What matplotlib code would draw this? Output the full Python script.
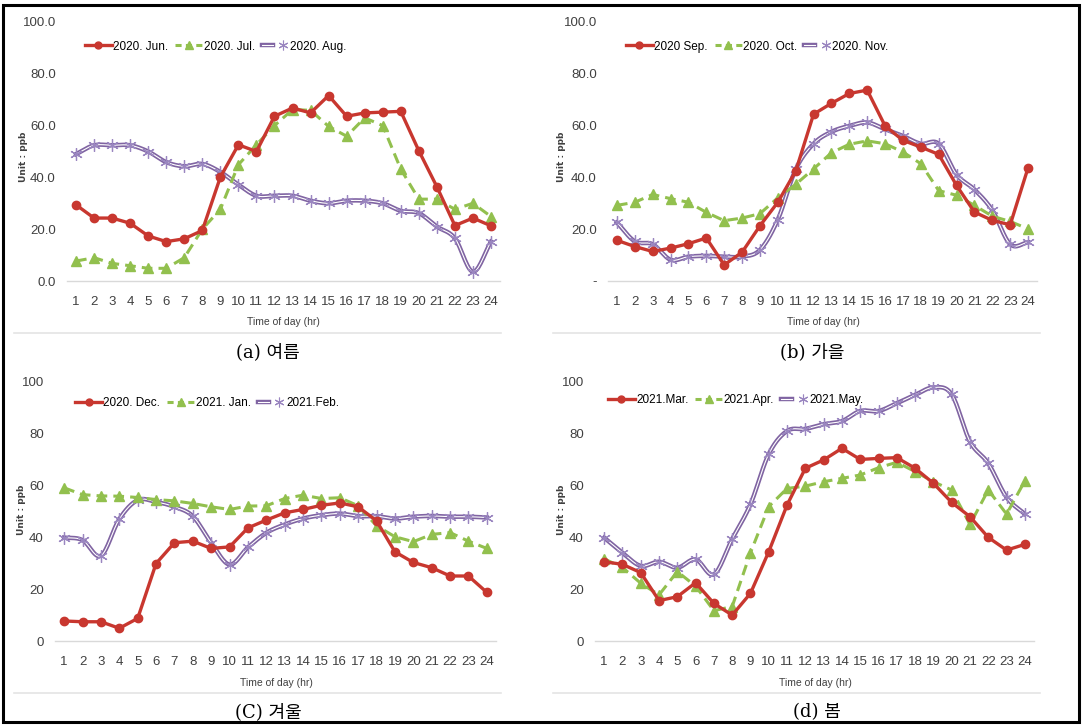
import numpy as np
import matplotlib
matplotlib.use("Agg")
import matplotlib.pyplot as plt
import matplotlib.patheffects as pe
from matplotlib.legend_handler import HandlerTuple
from matplotlib.patches import Rectangle
from matplotlib import font_manager

hours = list(range(1, 25))

# (a) summer
jun = [29.4, 24.3, 24.3, 22.3, 17.4, 15.2, 16.3, 19.5, 40.1, 52.6, 50.0, 63.6,
       66.8, 64.9, 71.6, 63.6, 64.9, 65.2, 65.5, 50.3, 36.4, 21.4, 24.3, 21.3]
jul = [7.7, 9.0, 6.8, 5.9, 4.9, 4.9, 9.0, 20.0, 27.7, 44.9, 52.6, 60.0,
       66.2, 65.9, 59.7, 55.9, 63.0, 60.0, 43.2, 31.6, 31.6, 27.7, 30.0, 24.9]
aug = [49.0, 52.4, 52.4, 52.4, 50.0, 45.9, 44.3, 45.2, 42.1, 37.2, 32.9, 32.9,
       32.9, 31.0, 30.0, 31.0, 31.0, 30.0, 27.1, 26.2, 21.0, 16.5, 3.6, 15.2]

# (b) autumn
sep = [15.7, 13.3, 11.4, 12.7, 14.4, 16.6, 6.2, 11.1, 21.3, 30.4, 42.4, 64.4,
       68.6, 72.4, 73.7, 59.9, 54.3, 51.7, 48.9, 36.9, 26.6, 23.4, 21.7, 43.7]
oct_ = [29.2, 30.4, 33.4, 31.8, 30.4, 26.5, 23.3, 24.3, 26.0, 32.1, 37.3, 43.3,
        49.5, 52.8, 54.1, 53.0, 49.8, 45.3, 34.9, 33.1, 29.2, 25.0, 23.0, 20.1]
nov = [22.6, 15.3, 14.2, 8.2, 9.4, 9.7, 9.4, 9.4, 12.0, 23.7, 43.1, 53.0,
       57.6, 59.9, 61.2, 58.6, 56.0, 53.0, 53.0, 41.1, 35.3, 27.3, 14.2, 14.9]

# (c) winter
dec = [7.7, 7.4, 7.4, 4.9, 8.7, 29.8, 37.8, 38.4, 35.6, 36.2, 43.5, 46.5,
       49.3, 50.6, 52.2, 53.1, 51.6, 46.2, 34.3, 30.2, 28.2, 25.0, 25.0, 18.7]
jan = [58.9, 56.3, 55.8, 55.7, 55.2, 54.4, 53.9, 52.9, 51.6, 50.6, 51.9, 52.0,
       54.8, 56.1, 54.8, 55.1, 52.0, 44.3, 40.1, 38.2, 41.0, 41.7, 38.4, 35.6]
feb = [39.8, 38.8, 32.8, 46.9, 54.2, 53.5, 51.6, 48.0, 37.8, 29.4, 36.0, 41.6,
       44.8, 47.1, 48.4, 49.0, 48.0, 48.0, 47.1, 47.8, 48.1, 47.8, 47.8, 47.5]

# (d) spring
mar = [30.6, 29.6, 26.4, 15.6, 17.1, 22.5, 14.5, 10.0, 18.4, 34.5, 52.5, 66.7,
       69.9, 74.4, 70.1, 70.5, 70.8, 66.7, 60.9, 53.5, 48.0, 40.0, 35.1, 37.3]
apr = [31.7, 28.4, 22.3, 17.8, 26.8, 21.2, 11.7, 13.3, 34.1, 51.9, 58.9, 59.8,
       61.5, 62.8, 64.1, 66.9, 69.0, 65.4, 61.5, 58.3, 45.0, 58.3, 49.0, 61.8]
may = [39.9, 34.1, 29.0, 30.6, 28.3, 31.5, 25.7, 39.4, 52.8, 72.2, 81.1, 81.9,
       83.7, 84.9, 88.8, 88.8, 91.8, 95.0, 97.9, 95.2, 77.0, 68.6, 55.5, 49.0]

RED = '#C8372F'
GREEN = '#92C04E'
PURPLE = '#8064A2'

installed = {f.name for f in font_manager.fontManager.ttflist}
narrow = 'Liberation Sans Narrow' if 'Liberation Sans Narrow' in installed else 'Liberation Sans'
plt.rcParams['font.family'] = [narrow, 'DejaVu Sans']

W, H = 1084, 727
fig = plt.figure(figsize=(W / 100, H / 100), dpi=100)


def px_axes(x0, x1, ytop, ybot):
    return fig.add_axes([x0 / W, 1 - ybot / H, (x1 - x0) / W, (ybot - ytop) / H])


def smooth(x, y, n=16):
    # Catmull-Rom curve through the points (like Excel's smoothed line)
    x = np.asarray(x, float)
    y = np.asarray(y, float)
    px = np.concatenate([[2 * x[0] - x[1]], x, [2 * x[-1] - x[-2]]])
    py = np.concatenate([[2 * y[0] - y[1]], y, [2 * y[-1] - y[-2]]])
    xs, ys = [], []
    t = np.linspace(0, 1, n, endpoint=False)
    for i in range(1, len(px) - 2):
        for arr, out in ((px, xs), (py, ys)):
            p0, p1, p2, p3 = arr[i - 1], arr[i], arr[i + 1], arr[i + 2]
            out.extend(0.5 * ((2 * p1) + (-p0 + p2) * t
                              + (2 * p0 - 5 * p1 + 4 * p2 - p3) * t ** 2
                              + (-p0 + 3 * p1 - 3 * p2 + p3) * t ** 3))
    xs.append(x[-1])
    ys.append(y[-1])
    return xs, ys


star = (6, 2, 0)


def panel(ax, s1, s2, s3, labels, fmt, leg_xy):
    h1, = ax.plot(hours, s1, color=RED, lw=2.4, marker='o', ms=6, zorder=4)
    h2, = ax.plot(hours, s2, color=GREEN, lw=2.2, ls=(0, (3.5, 2)), marker='^',
                  ms=6.5, zorder=3)
    sx, sy = smooth(hours, s3)
    dbl, = ax.plot(sx, sy, color='white', lw=0.8, zorder=2,
                   path_effects=[pe.Stroke(linewidth=3.2, foreground=PURPLE), pe.Normal()])
    mk, = ax.plot(hours, s3, ls='none', marker=star, ms=9, mew=0.9,
                  color=PURPLE, mec='#9A86C0', zorder=2)
    ax.set_xlim(0.5, 24.5)
    ax.set_ylim(0, 100)
    ax.set_xticks(hours)
    ax.set_yticks(range(0, 101, 20))
    ax.set_yticklabels([fmt(v) for v in range(0, 101, 20)])
    for sp in ('top', 'right', 'left'):
        ax.spines[sp].set_visible(False)
    ax.spines['bottom'].set_color('#D9D9D9')
    ax.spines['bottom'].set_linewidth(1)
    ax.tick_params(axis='both', length=0, labelsize=9.5, colors='#404040')
    ax.tick_params(axis='x', pad=11)
    ax.tick_params(axis='y', pad=8)

    # legend proxies: short dash pattern so the gaps show around the marker
    g_leg = plt.Line2D([], [], color=GREEN, lw=2.2, ls=(0, (2, 1.4)), marker='^', ms=5.5)
    r_leg = plt.Line2D([], [], color=RED, lw=2.4, marker='o', ms=5)
    m_leg = plt.Line2D([], [], ls='none', marker=star, ms=7, mew=0.8, color=PURPLE,
                       mec='#9A86C0')
    ax.legend([r_leg, g_leg, (dbl, m_leg)], labels, loc='center left', bbox_to_anchor=leg_xy,
              ncol=3, frameon=False, fontsize=8.5, handlelength=2.3, handletextpad=0.1,
              columnspacing=0.6, borderaxespad=0,
              handler_map={tuple: HandlerTuple(ndivide=None)})


ax_a = px_axes(67, 500, 22, 281)
panel(ax_a, jun, jul, aug, ['2020. Jun.', '2020. Jul.', '2020. Aug.'],
      lambda v: f'{v:.1f}', (0.03, 0.905))
ax_b = px_axes(608, 1037, 22, 281)
panel(ax_b, sep, oct_, nov, ['2020 Sep.', '2020. Oct.', '2020. Nov.'],
      lambda v: '-' if v == 0 else f'{v:.1f}', (0.03, 0.905))
ax_c = px_axes(55, 496, 381, 641)
panel(ax_c, dec, jan, feb, ['2020. Dec.', '2021. Jan.', '2021.Feb.'],
      lambda v: f'{v}', (0.035, 0.915))
ax_d = px_axes(595, 1034, 382, 641)
panel(ax_d, mar, apr, may, ['2021.Mar.', '2021.Apr.', '2021.May.'],
      lambda v: f'{v}', (0.018, 0.93))

# axis titles
for x, y in [(24, 157), (561, 157), (21, 510), (561, 510)]:
    fig.text(x / W, 1 - y / H, 'Unit : ppb', rotation=90, ha='center', va='center',
             fontsize=6.5, fontweight='bold', color='#404040', family=['DejaVu Sans'])
for x, y in [(283, 322), (823, 322), (276, 683), (815, 683)]:
    fig.text(x / W, 1 - y / H, 'Time of day (hr)', ha='center', va='center',
             fontsize=7.5, color='#404040')

# captions
cap_font = ['DejaVu Serif', 'Noto Sans CJK KR']
for x, y, t in [(268, 352, '(a) 여름'), (812, 352, '(b) 가을'),
                (268, 712, '(C) 겨울'), (817, 712, '(d) 봄')]:
    fig.text(x / W, 1 - y / H, t, ha='center', va='center', fontsize=13,
             family=cap_font, color='black')

# faint chart-area bottoms
for x0, x1, y in [(14, 501, 333), (553, 1040, 333), (14, 501, 693), (553, 1040, 693)]:
    fig.add_artist(plt.Line2D([x0 / W, x1 / W], [1 - y / H] * 2, color='#E4E4E4', lw=1.2,
                              transform=fig.transFigure))

# outer black frame
fig.add_artist(Rectangle((3 / W, 1 - 722 / H), 1076 / W, 717 / H, fill=False,
                         edgecolor='black', lw=2.2, transform=fig.transFigure))

fig.savefig('out.png', dpi=100)
